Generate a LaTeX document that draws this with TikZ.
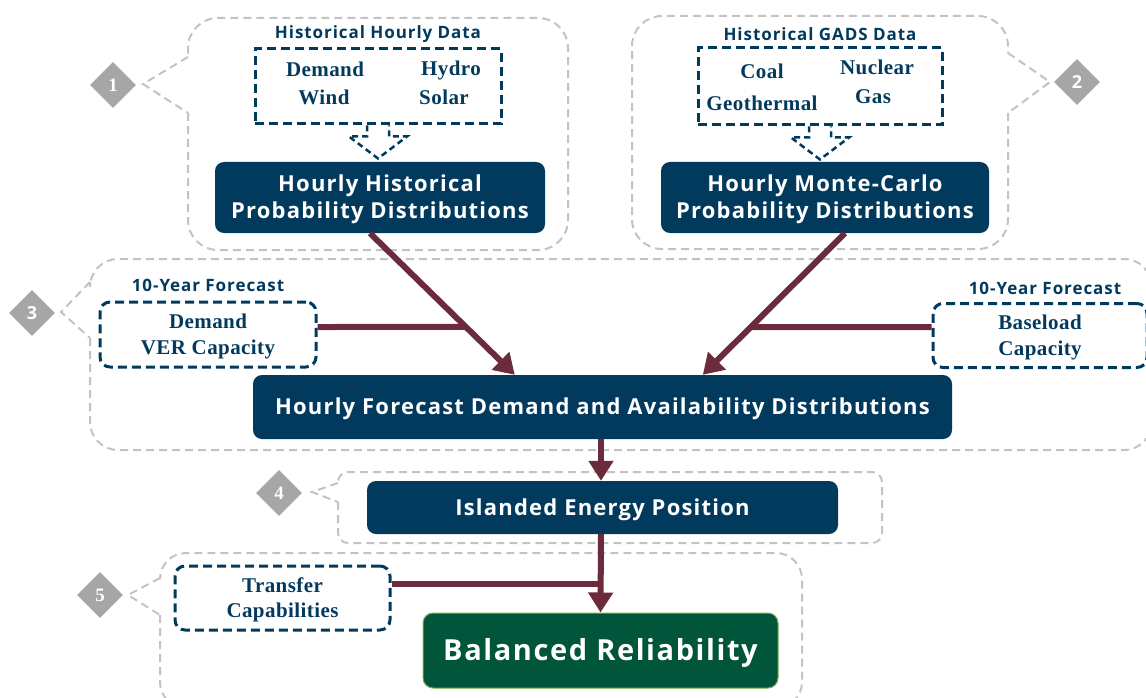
\documentclass[tikz,border=0pt]{standalone}
\usepackage{fontspec}
\setmainfont{Liberation Serif}[LetterSpace=2]
\newfontfamily\headfont{Open Sans}[LetterSpace=5.5]
\usetikzlibrary{arrows.meta,calc,shapes.geometric}

\definecolor{navy}{HTML}{023A5E}
\definecolor{maroon}{HTML}{6C2B3D}
\definecolor{forest}{HTML}{00553A}
\definecolor{leaf}{HTML}{7FAF48}
\definecolor{badgegray}{HTML}{A6A6A6}
\definecolor{outl}{HTML}{C3C3C3}

\begin{document}
\begin{tikzpicture}[x=1pt,y=-1pt,
  group/.style={draw=outl, line width=2pt, dash pattern=on 8pt off 5pt},
  stage/.style={rectangle, rounded corners=9pt, fill=navy, text=white, text depth=1pt,
    font=\headfont\bfseries\fontsize{22}{27}\selectfont, align=center, inner sep=0pt},
  datafrm/.style={draw=navy, line width=3pt, dash pattern=on 9pt off 5pt, inner sep=0pt},
  fcbox/.style={datafrm, rounded corners=10pt, align=center, text=navy, text depth=0.5pt,
    font=\bfseries\fontsize{21}{25.5}\selectfont},
  heading/.style={text=navy, font=\headfont\bfseries\fontsize{17}{18}\selectfont, inner sep=0pt},
  item/.style={text=navy, font=\bfseries\fontsize{21}{24}\selectfont, inner sep=0pt},
  badge/.style={diamond, fill=badgegray, minimum width=46pt, minimum height=46pt,
    inner sep=0pt, text=white, font=\bfseries\fontsize{19}{19}\selectfont},
  sbadge/.style={badge, font=\headfont\bfseries\fontsize{18}{18}\selectfont},
  flow/.style={draw=maroon, line width=6pt, -{Triangle[length=20pt,width=24pt]}},
  link/.style={draw=maroon, line width=6pt},
  hollow/.style={draw=navy, line width=2.5pt, dash pattern=on 6pt off 4pt}
]
\useasboundingbox (0,0) rectangle (1146,698);

% ---- grouping outlines with their call-out pointers ----
% group 1
\draw[group, rounded corners=30pt] (188,113) -- (188,250) -- (568,250) -- (568,18) -- (188,18) -- (188,57);
\draw[group] (188,57) -- (143,84) -- (188,113);
% group 2
\draw[group, rounded corners=30pt] (1008,113) -- (1008,249) -- (632,249) -- (632,16) -- (1008,16) -- (1008,53);
\draw[group] (1008,53) -- (1050,82) -- (1008,113);
% group 3
\draw[group, rounded corners=28pt] (90,338) -- (90,450) -- (1152,450) -- (1152,259) -- (90,259) -- (90,282);
\draw[group] (90,282) -- (61,312) -- (90,338);
% group 4
\draw[group, rounded corners=10pt] (338,502) -- (338,543) -- (882,543) -- (882,472) -- (338,472) -- (338,483);
\draw[group] (338,483) -- (312,492) -- (338,502);
% group 5
\draw[group, rounded corners=26pt] (160,615) -- (160,708) -- (802,708) -- (802,553) -- (160,553) -- (160,578);
\draw[group] (160,578) -- (128,595) -- (160,615);

% ---- step badges ----
\node[badge]  (b1) at (113,85)  {1};
\node[sbadge] (b2) at (1077,82) {2};
\node[sbadge] (b3) at (32,313)  {3};
\node[badge]  (b4) at (279,493) {4};
\node[badge]  (b5) at (100,595) {5};

% ---- historical input data ----
\node[heading] (hhead) at (378,34) {Historical Hourly Data};
\node[datafrm, minimum width=246pt, minimum height=75pt] (hdata) at (378,86.5) {};
\node[item] (demand) at (325,69) {Demand};
\node[item] (hydro)  at (451,70) {Hydro};
\node[item] (wind)   at (324,97) {Wind};
\node[item] (solar)  at (444,97) {Solar};

\node[heading] (ghead) at (820,34) {Historical GADS Data};
\node[datafrm, minimum width=244pt, minimum height=77pt] (gads) at (820,86.5) {};
\node[item] (coal)    at (762,71)  {Coal};
\node[item] (nuclear) at (877,67)  {Nuclear};
\node[item] (geo)     at (762,103) {Geothermal};
\node[item] (gas)     at (873,97)  {Gas};

% hollow dashed block arrows feeding the distributions
\draw[hollow, shift={(hdata.south)}] (-11,0) -- (-11,11) -- (-29,11) -- (0,33) -- (29,11) -- (11,11) -- (11,0);
\draw[hollow, shift={(gads.south)}] (-11,0) -- (-11,11) -- (-29,11) -- (0,33) -- (29,11) -- (11,11) -- (11,0);

% ---- process stages ----
\node[stage, minimum width=330pt, minimum height=71pt] (hist) at (380,197.5)
  {Hourly Historical\\Probability Distributions};
\node[stage, minimum width=328pt, minimum height=71pt] (mc) at (825,197.5)
  {Hourly Monte-Carlo\\Probability Distributions};
\node[stage, minimum width=699pt, minimum height=64pt] (fcst) at (602.5,407)
  {Hourly Forecast Demand and Availability Distributions};
\node[stage, minimum width=471pt, minimum height=53pt] (isl) at (602.5,507.5)
  {Islanded Energy Position};
\node[stage, fill=forest, draw=leaf, line width=1pt, rounded corners=10pt,
  minimum width=355pt, minimum height=75pt, text depth=3pt,
  font=\headfont\bfseries\fontsize{29}{32}\selectfont] (bal) at (600.5,650.5)
  {Balanced Reliability};

% ---- forecast and transfer inputs ----
\node[heading] (fh1) at (208,285) {10-Year Forecast};
\node[fcbox, minimum width=216pt, minimum height=65pt] (dem) at (208,334.5)
  {Demand\\VER Capacity};
\node[heading] (fh2) at (1045,288) {10-Year Forecast};
\node[fcbox, minimum width=214pt, minimum height=64pt] (base) at (1040,335.5)
  {Baseload\\Capacity};
\node[fcbox, minimum width=215pt, minimum height=64pt] (trans) at (282.5,598)
  {Transfer\\Capabilities};

% ---- connectors ----
\coordinate (hs) at ($(hist.south)+(-10,0)$);
\coordinate (ft1) at ($(fcst.north west)+(262,0)$);
\coordinate (ms) at ($(mc.south)+(20,0)$);
\coordinate (ft2) at ($(fcst.north west)+(450,0)$);
\coordinate (dl) at ($(dem.east)+(0,-7.5)$);
\coordinate (dr) at ($(dl)+(100,0)$);
\coordinate (bl) at ($(base.west)+(0,-8.5)$);
\coordinate (br) at ($(bl)+(-100,0)$);
\coordinate (tl) at ($(trans.east)+(0,-14)$);

\draw[link] (dl) -- (intersection of hs--ft1 and dl--dr);
\draw[link] (bl) -- (intersection of ms--ft2 and bl--br);
\draw[flow] (hs) -- (ft1);
\draw[flow] (ms) -- (ft2);
\draw[flow] ($(fcst.south)+(-1.5,0)$) -- ($(isl.north)+(-1.5,0)$);
\draw[link] (tl) -- (tl -| bal.north);
\draw[flow] ($(isl.south)+(-1.5,0)$) -- ($(bal.north)+(0,0)$);
\end{tikzpicture}
\end{document}
